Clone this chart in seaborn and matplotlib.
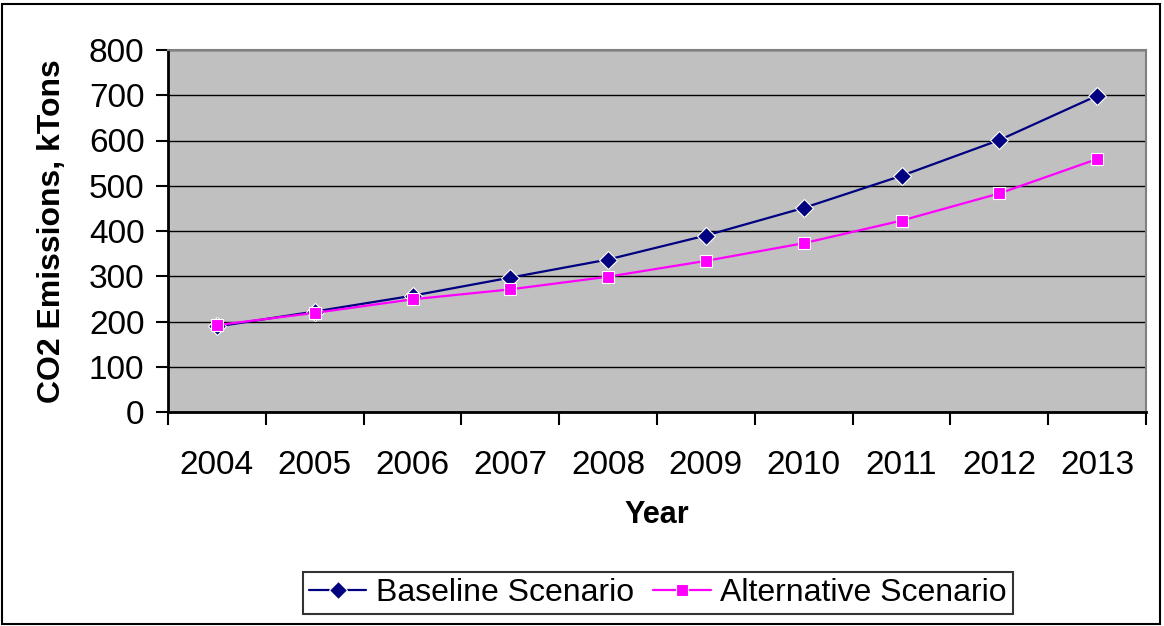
import pandas as pd
import numpy as np
import matplotlib
matplotlib.use("Agg")
import matplotlib.pyplot as plt
import seaborn as sns
from matplotlib.patches import Rectangle

# Data
years = ["2004", "2005", "2006", "2007", "2008", "2009", "2010", "2011", "2012", "2013"]
baseline = [189, 222, 257, 297, 337, 390, 451, 522, 601, 699]
alternative = [192, 219, 249, 271, 299, 334, 373, 423, 483, 559]
series_names = ["Baseline Scenario", "Alternative Scenario"]

df = pd.DataFrame({
    "pos": list(range(len(years))) * 2,
    "value": baseline + alternative,
    "series": [series_names[0]] * len(years) + [series_names[1]] * len(years),
})

sns.set_style("white")
plt.rcParams["font.family"] = ["Liberation Sans", "DejaVu Sans"]
plt.rcParams["text.color"] = "black"
plt.rcParams["axes.labelcolor"] = "black"
plt.rcParams["xtick.color"] = "black"
plt.rcParams["ytick.color"] = "black"

fig = plt.figure(figsize=(11.64, 6.26), dpi=100)
ax = fig.add_axes([168 / 1164, 1 - 412 / 626, (1146 - 168) / 1164, 362 / 626])
ax.set_facecolor("#C0C0C0")

sns.lineplot(data=df, x="pos", y="value", hue="series", style="series",
             palette={series_names[0]: "#000080", series_names[1]: "#FF00FF"},
             markers={series_names[0]: "D", series_names[1]: "s"},
             dashes=False, linewidth=1.6, markersize=9, markeredgewidth=0.8,
             ax=ax, legend=True)

ax.set_xlim(-0.5, len(years) - 0.5)
ax.set_ylim(0, 800)
ax.set_yticks(range(0, 801, 100))
ax.yaxis.grid(True, color="black", linewidth=1)
ax.set_axisbelow(True)

# ticks between categories, labels centred on categories
ax.set_xticks(np.arange(-0.5, len(years), 1))
ax.set_xticklabels([])
ax.set_xticks(range(len(years)), minor=True)
ax.set_xticklabels(years, minor=True)
ax.tick_params(axis="x", which="major", direction="out", length=9, width=1.5, color="black", bottom=True)
ax.tick_params(axis="x", which="minor", length=0, pad=27, labelsize=24)
ax.tick_params(axis="y", direction="out", length=9, width=1.5, color="black", left=True, pad=8, labelsize=24)

for side in ["left", "bottom"]:
    ax.spines[side].set_color("black")
    ax.spines[side].set_linewidth(2)
for side in ["top", "right"]:
    ax.spines[side].set_color("#808080")
    ax.spines[side].set_linewidth(1.5)

ax.set_xlabel("Year", fontsize=22, fontweight="bold")
ax.set_ylabel("CO2 Emissions, kTons", fontsize=23, fontweight="bold")
ax.xaxis.set_label_coords(0.5, -0.243)
ax.yaxis.set_label_coords(-0.103, 0.5)

handles, labels = ax.get_legend_handles_labels()
ax.get_legend().remove()
leg = fig.legend(handles, labels, loc="center", bbox_to_anchor=(658 / 1164, 1 - 593 / 626),
                 ncol=2, fontsize=23, frameon=True, fancybox=False, edgecolor="black",
                 handlelength=1.8, handletextpad=0.3, columnspacing=0.6, borderpad=0.2,
                 borderaxespad=0)
leg.get_frame().set_linewidth(1.5)

fig.patches.append(Rectangle((2 / 1164, 2 / 626), 1158 / 1164, 620 / 626, transform=fig.transFigure,
                             fill=False, edgecolor="black", linewidth=1.5))

fig.savefig("out.png", dpi=100)
